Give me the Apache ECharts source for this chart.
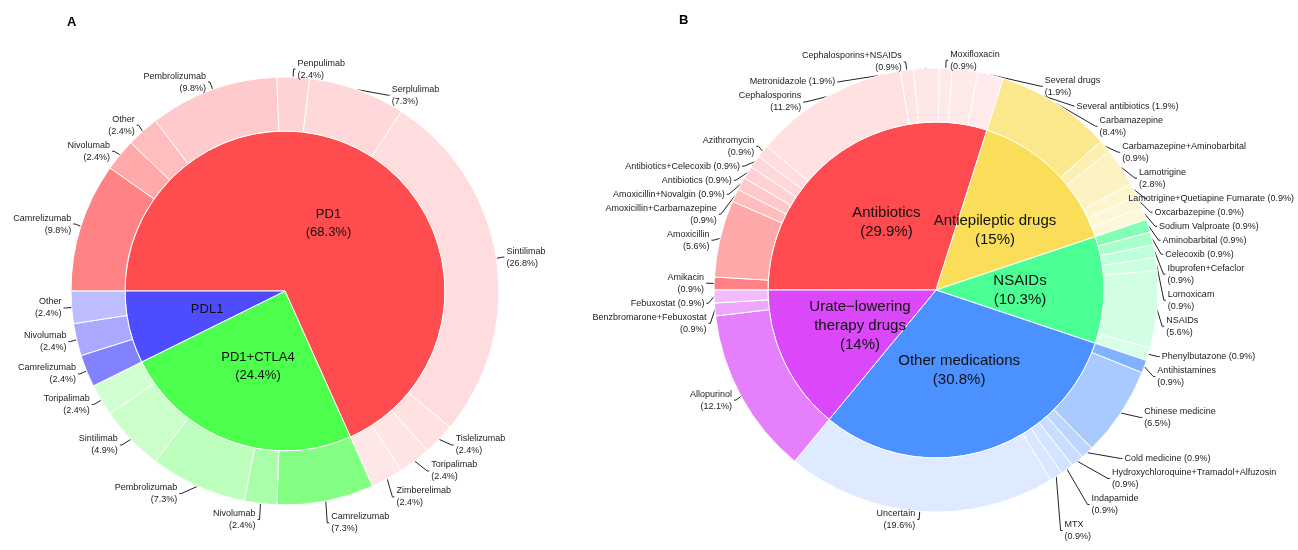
<!DOCTYPE html>
<html>
<head>
<meta charset="utf-8">
<title>Immune checkpoint inhibitors and concomitant medications</title>
<script src="https://cdn.jsdelivr.net/npm/echarts@6/dist/echarts.min.js"></script>
<style>
  html, body { margin: 0; padding: 0; background: #ffffff; }
  #chart { width: 1298px; height: 550px; }
</style>
</head>
<body>
<div id="chart"></div>
<script>
// ---- Panel A: checkpoint inhibitor class and agent (patient counts) ----
const groupsA = ['PD1', 'PD1+CTLA4', 'PDL1'];
const pd1Drugs = ['Camrelizumab', 'Nivolumab', 'Other', 'Pembrolizumab', 'Penpulimab', 'Serplulimab', 'Sintilimab', 'Tislelizumab', 'Toripalimab', 'Zimberelimab'];
const pd1Counts = [4, 1, 1, 4, 1, 3, 11, 1, 1, 1];
const comboDrugs = ['Camrelizumab', 'Nivolumab', 'Pembrolizumab', 'Sintilimab', 'Toripalimab'];
const comboCounts = [3, 1, 3, 2, 1];
const pdl1Drugs = ['Camrelizumab', 'Nivolumab', 'Other'];
const pdl1Counts = [1, 1, 1];

// ---- Panel B: concomitant medication class and agent (patient counts) ----
const groupsB = ['Antibiotics', 'Antiepileptic drugs', 'NSAIDs', 'Other medications', 'Urate\u2212lowering therapy drugs'];
const antibioticDrugs = ['Amikacin', 'Amoxicillin', 'Amoxicillin+Carbamazepine', 'Amoxicillin+Novalgin', 'Antibiotics', 'Antibiotics+Celecoxib', 'Azithromycin', 'Cephalosporins', 'Cephalosporins+NSAIDs', 'Metronidazole', 'Moxifloxacin', 'Several antibiotics', 'Several drugs'];
const antibioticCounts = [1, 6, 1, 1, 1, 1, 1, 12, 1, 2, 1, 2, 2];
const antiepilepticDrugs = ['Carbamazepine', 'Carbamazepine+Aminobarbital', 'Lamotrigine', 'Lamotrigine+Quetiapine Fumarate', 'Oxcarbazepine', 'Sodium Valproate'];
const antiepilepticCounts = [9, 1, 3, 1, 1, 1];
const nsaidDrugs = ['Aminobarbital', 'Celecoxib', 'Ibuprofen+Cefaclor', 'Lornoxicam', 'NSAIDs', 'Phenylbutazone'];
const nsaidCounts = [1, 1, 1, 1, 6, 1];
const otherDrugs = ['Antihistamines', 'Chinese medicine', 'Cold medicine', 'Hydroxychloroquine+Tramadol+Alfuzosin', 'Indapamide', 'MTX', 'Uncertain'];
const otherCounts = [1, 7, 1, 1, 1, 1, 21];
const urateDrugs = ['Allopurinol', 'Benzbromarone+Febuxostat', 'Febuxostat'];
const urateCounts = [13, 1, 1];

// labels written on one line ("name (x%)") instead of two
const oneLineLabels = ['Metronidazole', 'Several antibiotics', 'Antibiotics+Celecoxib', 'Antibiotics', 'Amoxicillin+Novalgin', 'Febuxostat', 'Lamotrigine+Quetiapine Fumarate', 'Oxcarbazepine', 'Sodium Valproate', 'Aminobarbital', 'Celecoxib', 'Phenylbutazone', 'Cold medicine'];
// inner labels drawn without a percentage
const nameOnlyLabels = ['PDL1'];

// base colours of the class slices
const baseA = [[255, 77, 79], [76, 255, 76], [77, 77, 255]];
const baseB = [[255, 75, 79], [250, 222, 90], [76, 255, 148], [75, 145, 255], [218, 72, 250]];

const sum = a => a.reduce((s, v) => s + v, 0);
const tint = (rgb, alpha) => 'rgb(' + rgb.map(c => Math.round(255 - alpha * (255 - c))).join(',') + ')';
const pct = (v, total) => String(Math.round(v / total * 1000) / 10);

function buildPanel(groups, children, bases) {
  const total = sum(children.map(c => sum(c.counts)));
  const inner = groups.map((g, gi) => ({
    name: g,
    value: sum(children[gi].counts),
    itemStyle: { color: 'rgb(' + bases[gi].join(',') + ')' }
  }));
  const outer = [];
  children.forEach((c, gi) => {
    c.names.forEach((n, i) => {
      outer.push({
        name: n,
        value: c.counts[i],
        itemStyle: { color: tint(bases[gi], 0.7 / (1 + 0.45 * i)) }
      });
    });
  });
  return { total, inner, outer };
}

const panelA = buildPanel(groupsA, [
  { names: pd1Drugs, counts: pd1Counts },
  { names: comboDrugs, counts: comboCounts },
  { names: pdl1Drugs, counts: pdl1Counts }
], baseA);

const panelB = buildPanel(groupsB, [
  { names: antibioticDrugs, counts: antibioticCounts },
  { names: antiepilepticDrugs, counts: antiepilepticCounts },
  { names: nsaidDrugs, counts: nsaidCounts },
  { names: otherDrugs, counts: otherCounts },
  { names: urateDrugs, counts: urateCounts }
], baseB);

const FONT = '"Liberation Sans", Arial, Helvetica, sans-serif';
const CANVAS_W = 1298;

// class disc: one-level sunburst so every class label stays visible
function innerSeries(panel, center, radius, fontSize, lineHeight) {
  return {
    type: 'sunburst',
    center: center,
    radius: [0, radius],
    startAngle: 180,
    clockwise: true,
    sort: null,
    nodeClick: false,
    silent: true,
    animation: false,
    emphasis: { disabled: true },
    itemStyle: { borderColor: '#ffffff', borderWidth: 1 },
    label: {
      show: true,
      position: 'inside',
      rotate: 0,
      align: 'center',
      verticalAlign: 'middle',
      color: '#111',
      fontFamily: FONT,
      fontSize: fontSize,
      lineHeight: lineHeight,
      minAngle: 0,
      formatter: p => {
        const name = p.name.replace(' therapy', '\ntherapy');
        if (nameOnlyLabels.includes(p.name)) return name;
        return name + '\n(' + pct(p.value, panel.total) + '%)';
      }
    },
    data: panel.inner
  };
}

// agent ring with leader-lined labels
function outerSeries(panel, center, r0, r1) {
  return {
    type: 'pie',
    center: center,
    radius: [r0, r1],
    startAngle: 180,
    clockwise: true,
    silent: true,
    animation: false,
    minShowLabelAngle: 0,
    avoidLabelOverlap: true,
    itemStyle: { borderColor: '#ffffff', borderWidth: 1 },
    label: {
      position: 'outside',
      color: '#222',
      fontFamily: FONT,
      fontSize: 9,
      lineHeight: 12,
      overflow: 'none',
      distanceToLabelLine: 2,
      formatter: p => {
        const sep = oneLineLabels.includes(p.name) ? ' ' : '\n';
        return p.name + sep + '(' + pct(p.value, panel.total) + '%)';
      }
    },
    labelLine: {
      show: true,
      length: 8,
      length2: 2,
      lineStyle: { color: '#222', width: 1 }
    },
    // keep long labels on the right edge inside the canvas
    labelLayout: params => {
      const r = params.labelRect;
      const over = r.x + r.width - (CANVAS_W - 4);
      return over > 0 ? { dx: -over } : {};
    },
    data: panel.outer
  };
}

const chart = echarts.init(document.getElementById('chart'), null, { renderer: 'canvas' });
chart.setOption({
  backgroundColor: '#ffffff',
  title: [
    { text: 'A', left: 62, top: 11, textStyle: { fontFamily: FONT, fontSize: 13, fontWeight: 'bold', color: '#000' } },
    { text: 'B', left: 674, top: 9, textStyle: { fontFamily: FONT, fontSize: 13, fontWeight: 'bold', color: '#000' } }
  ],
  series: [
    innerSeries(panelA, [285, 291], 160, 13, 18),
    outerSeries(panelA, [285, 291], 160, 214),
    innerSeries(panelB, [936, 290], 168, 15, 19),
    outerSeries(panelB, [936, 290], 168, 222)
  ]
});
</script>
</body>
</html>
